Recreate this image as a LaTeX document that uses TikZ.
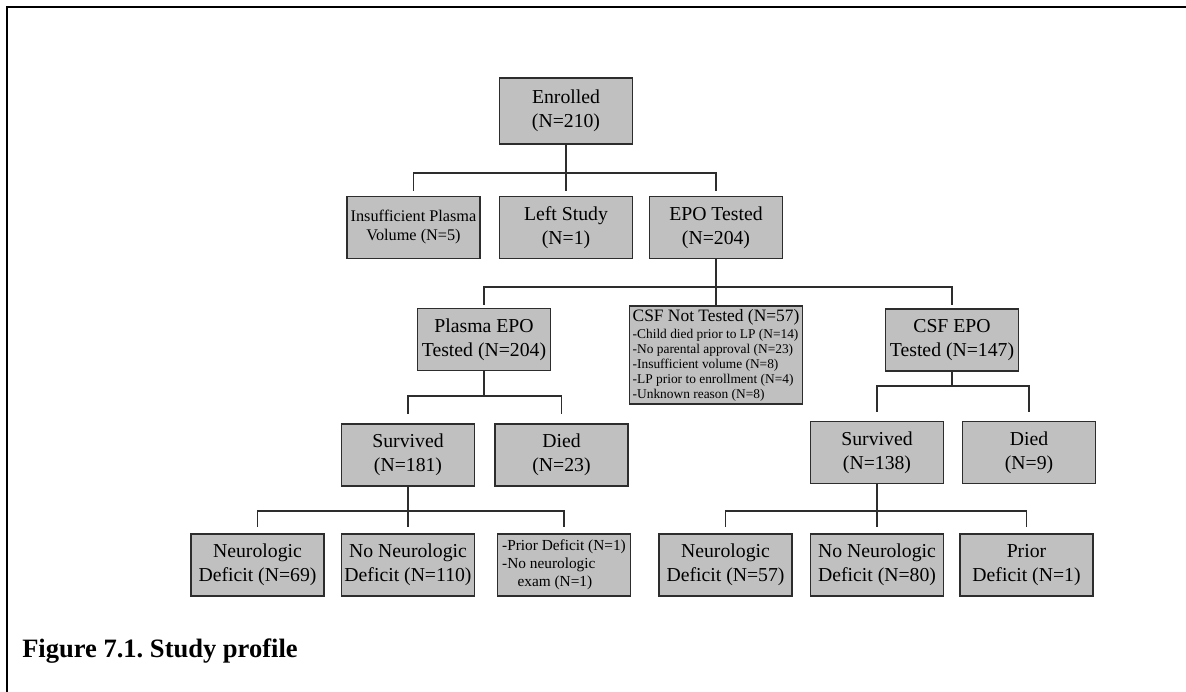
\documentclass[tikz,border=0pt]{standalone}
\usepackage{fontspec}
\setmainfont{Liberation Serif}
\definecolor{boxgray}{RGB}{192,192,192}
\definecolor{linegray}{RGB}{45,45,45}
\frenchspacing

\begin{document}
\begin{tikzpicture}[x=.75pt,y=-.75pt]

\tikzset{BoxStyle/.style = {draw=linegray, line width=1.1pt, fill=boxgray,
            minimum width=99.75pt, minimum height=46.5pt, inner sep=1pt,
            align=center, font=\fontsize{14.8}{18}\selectfont}}
\tikzset{LinkStyle/.style = {draw=linegray, line width=1.1pt}}

\useasboundingbox (0,0) rectangle (1186,692);
\draw[line width=1.5pt] (7,692) -- (7,7) -- (1186,7);

\node[BoxStyle, minimum height=49.5pt] (enr) at (566,111) {Enrolled\\(N=210)};

\node[BoxStyle, font=\fontsize{12.2}{14.25}\selectfont] (ins) at (413.5,227.5) {Insufficient Plasma\\Volume (N=5)};
\node[BoxStyle] (lft) at (566,227.5) {Left Study\\(N=1)};
\node[BoxStyle] (epo) at (716,227.5) {EPO Tested\\(N=204)};

\node[BoxStyle] (pla) at (484,339.5) {Plasma EPO\\Tested (N=204)};
\node[BoxStyle, minimum width=129.75pt, minimum height=73.5pt, align=left,
      font=\fontsize{10.05}{11.25}\selectfont] (cnt) at (716,355)
      {{\fontsize{13.05}{11.25}\selectfont CSF Not Tested (N=57)}\\[1.5pt]
       -Child died prior to LP (N=14)\\
       -No parental approval (N=23)\\
       -Insufficient volume (N=8)\\
       -LP prior to enrollment (N=4)\\
       -Unknown reason (N=8)};
\node[BoxStyle] (cse) at (952,340) {CSF EPO\\Tested (N=147)};

\node[BoxStyle] (sv1) at (408,455) {Survived\\(N=181)};
\node[BoxStyle] (di1) at (561.5,455) {Died\\(N=23)};
\node[BoxStyle] (sv2) at (877,452.5) {Survived\\(N=138)};
\node[BoxStyle] (di2) at (1029,452.5) {Died\\(N=9)};

\node[BoxStyle] (ne1) at (257.5,565) {Neurologic\\Deficit (N=69)};
\node[BoxStyle] (nn1) at (408,565) {No Neurologic\\Deficit (N=110)};
\node[BoxStyle, align=left, font=\fontsize{11.5}{13.5}\selectfont] (pd1) at (564,565)
      {-Prior Deficit (N=1)\\-No neurologic\\\hspace{1em}exam (N=1)};
\node[BoxStyle] (ne2) at (725.5,565) {Neurologic\\Deficit (N=57)};
\node[BoxStyle] (nn2) at (877,565) {No Neurologic\\Deficit (N=80)};
\node[BoxStyle] (pd2) at (1026.5,565) {Prior\\Deficit (N=1)};

\node[anchor=base west, inner sep=0pt, font=\bfseries\fontsize{19.9}{24}\selectfont] (cap) at (22,657) {Figure 7.1. Study profile};

\coordinate (j1) at (566,173);
\coordinate (j2) at (716,287);
\coordinate (j3) at (484,396);
\coordinate (j4) at (952,386);
\coordinate (j5) at (408,511);
\coordinate (j6) at (877,511);

\draw[LinkStyle] (enr.south) -- (j1);
\draw[LinkStyle, shorten >=3.75pt] (j1) -| (ins.north);
\draw[LinkStyle, shorten >=3.75pt] (j1) -- (lft.north);
\draw[LinkStyle, shorten >=3.75pt] (j1) -| (epo.north);

\draw[LinkStyle] (epo.south) -- (j2);
\draw[LinkStyle, shorten >=2.25pt] (j2) -| (pla.north);
\draw[LinkStyle] (j2) -- (cnt.north);
\draw[LinkStyle, shorten >=2.25pt] (j2) -| (cse.north);

\draw[LinkStyle] (pla.south) -- (j3);
\draw[LinkStyle, shorten >=6.75pt] (j3) -| (sv1.north);
\draw[LinkStyle, shorten >=6.75pt] (j3) -| (di1.north);

\draw[LinkStyle] (cse.south) -- (j4);
\draw[LinkStyle, shorten >=6.75pt] (j4) -| (sv2.north);
\draw[LinkStyle, shorten >=6.75pt] (j4) -| (di2.north);

\draw[LinkStyle] (sv1.south) -- (j5);
\draw[LinkStyle, shorten >=4.5pt] (j5) -| (ne1.north);
\draw[LinkStyle, shorten >=4.5pt] (j5) -- (nn1.north);
\draw[LinkStyle, shorten >=4.5pt] (j5) -| (pd1.north);

\draw[LinkStyle] (sv2.south) -- (j6);
\draw[LinkStyle, shorten >=4.5pt] (j6) -| (ne2.north);
\draw[LinkStyle, shorten >=4.5pt] (j6) -- (nn2.north);
\draw[LinkStyle, shorten >=4.5pt] (j6) -| (pd2.north);

\end{tikzpicture}
\end{document}
